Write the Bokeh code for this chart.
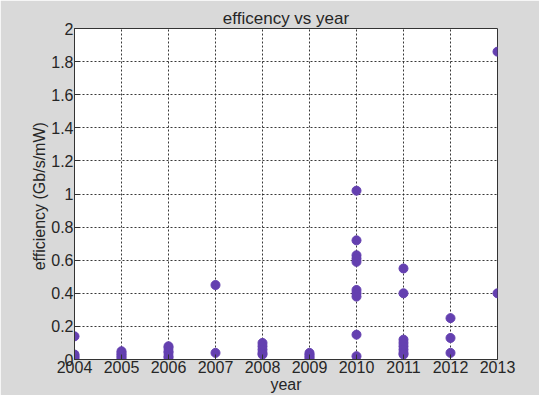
from bokeh.plotting import figure
from bokeh.models import FixedTicker, Range1d, ColumnDataSource
from bokeh.embed import file_html
from bokeh.resources import INLINE

# ---- data ----
years_2004 = [0.14, 0.03, 0.02, 0.01, 0.0]
years_2005 = [0.05, 0.04, 0.03, 0.02, 0.01, 0.0]
years_2006 = [0.08, 0.07, 0.05, 0.04, 0.02, 0.01]
years_2007 = [0.45, 0.04]
years_2008 = [0.10, 0.08, 0.06, 0.04, 0.03]
years_2009 = [0.04, 0.03, 0.02, 0.01, 0.0]
years_2010 = [1.02, 0.72, 0.63, 0.61, 0.59, 0.42, 0.40, 0.38, 0.15, 0.02]
years_2011 = [0.55, 0.40, 0.12, 0.10, 0.08, 0.06, 0.04, 0.03]
years_2012 = [0.25, 0.13, 0.04]
years_2013 = [1.86, 0.40]

groups = {2004: years_2004, 2005: years_2005, 2006: years_2006, 2007: years_2007,
          2008: years_2008, 2009: years_2009, 2010: years_2010, 2011: years_2011,
          2012: years_2012, 2013: years_2013}

x_ticks = [2004, 2005, 2006, 2007, 2008, 2009, 2010, 2011, 2012, 2013]
y_ticks = [0, 0.2, 0.4, 0.6, 0.8, 1.0, 1.2, 1.4, 1.6, 1.8, 2.0]
y_tick_labels = ["0", "0.2", "0.4", "0.6", "0.8", "1", "1.2", "1.4", "1.6", "1.8", "2"]

xs, ys = [], []
for yr, vals in groups.items():
    for v in vals:
        xs.append(yr)
        ys.append(v)
src = ColumnDataSource(dict(x=xs, y=ys))

FONT = "Liberation Sans"
BG = "#d9d9d9"
TXT = "#262626"

p = figure(width=539, height=395, output_backend="svg", toolbar_location=None,
           x_range=Range1d(2004, 2013), y_range=Range1d(0, 2),
           title="efficency vs year")
p.min_border_left = 74
p.min_border_right = 42
p.min_border_top = 28
p.min_border_bottom = 30
p.border_fill_color = BG
p.background_fill_color = "white"
p.outline_line_color = "#333333"
p.outline_line_width = 1

p.title.align = "center"
p.title.text_font = FONT
p.title.text_font_size = "17px"
p.title.text_font_style = "normal"
p.title.text_color = TXT
p.title.standoff = 2

p.scatter("x", "y", source=src, size=9, color="#6440b0", line_color="#6440b0")

for ax in (p.xaxis[0], p.yaxis[0]):
    ax.major_label_text_font = FONT
    ax.major_label_text_font_size = "16px"
    ax.major_label_text_color = TXT
    ax.axis_label_text_font = FONT
    ax.axis_label_text_font_size = "16px"
    ax.axis_label_text_font_style = "normal"
    ax.axis_label_text_color = TXT
    ax.major_tick_in = 5
    ax.major_tick_out = 0
    ax.minor_tick_in = 0
    ax.minor_tick_out = 0
    ax.axis_line_color = "#333333"
    ax.major_tick_line_color = "#333333"
    ax.major_label_standoff = 1
    ax.axis_label_standoff = 0

p.xaxis.axis_label = "year"
p.yaxis.axis_label = "efficiency  (Gb/s/mW)"
p.xaxis.ticker = FixedTicker(ticks=x_ticks)
p.yaxis.ticker = FixedTicker(ticks=y_ticks)
p.yaxis.major_label_overrides = {t: l for t, l in zip(y_ticks, y_tick_labels)}

for g in (p.xgrid[0], p.ygrid[0]):
    g.grid_line_color = "#222222"
    g.grid_line_dash = "2 2"
    g.grid_line_width = 1
    g.grid_line_alpha = 0.9
p.xgrid.ticker = FixedTicker(ticks=x_ticks)
p.ygrid.ticker = FixedTicker(ticks=y_ticks)

open("out.html", "w").write(file_html(p, INLINE))
